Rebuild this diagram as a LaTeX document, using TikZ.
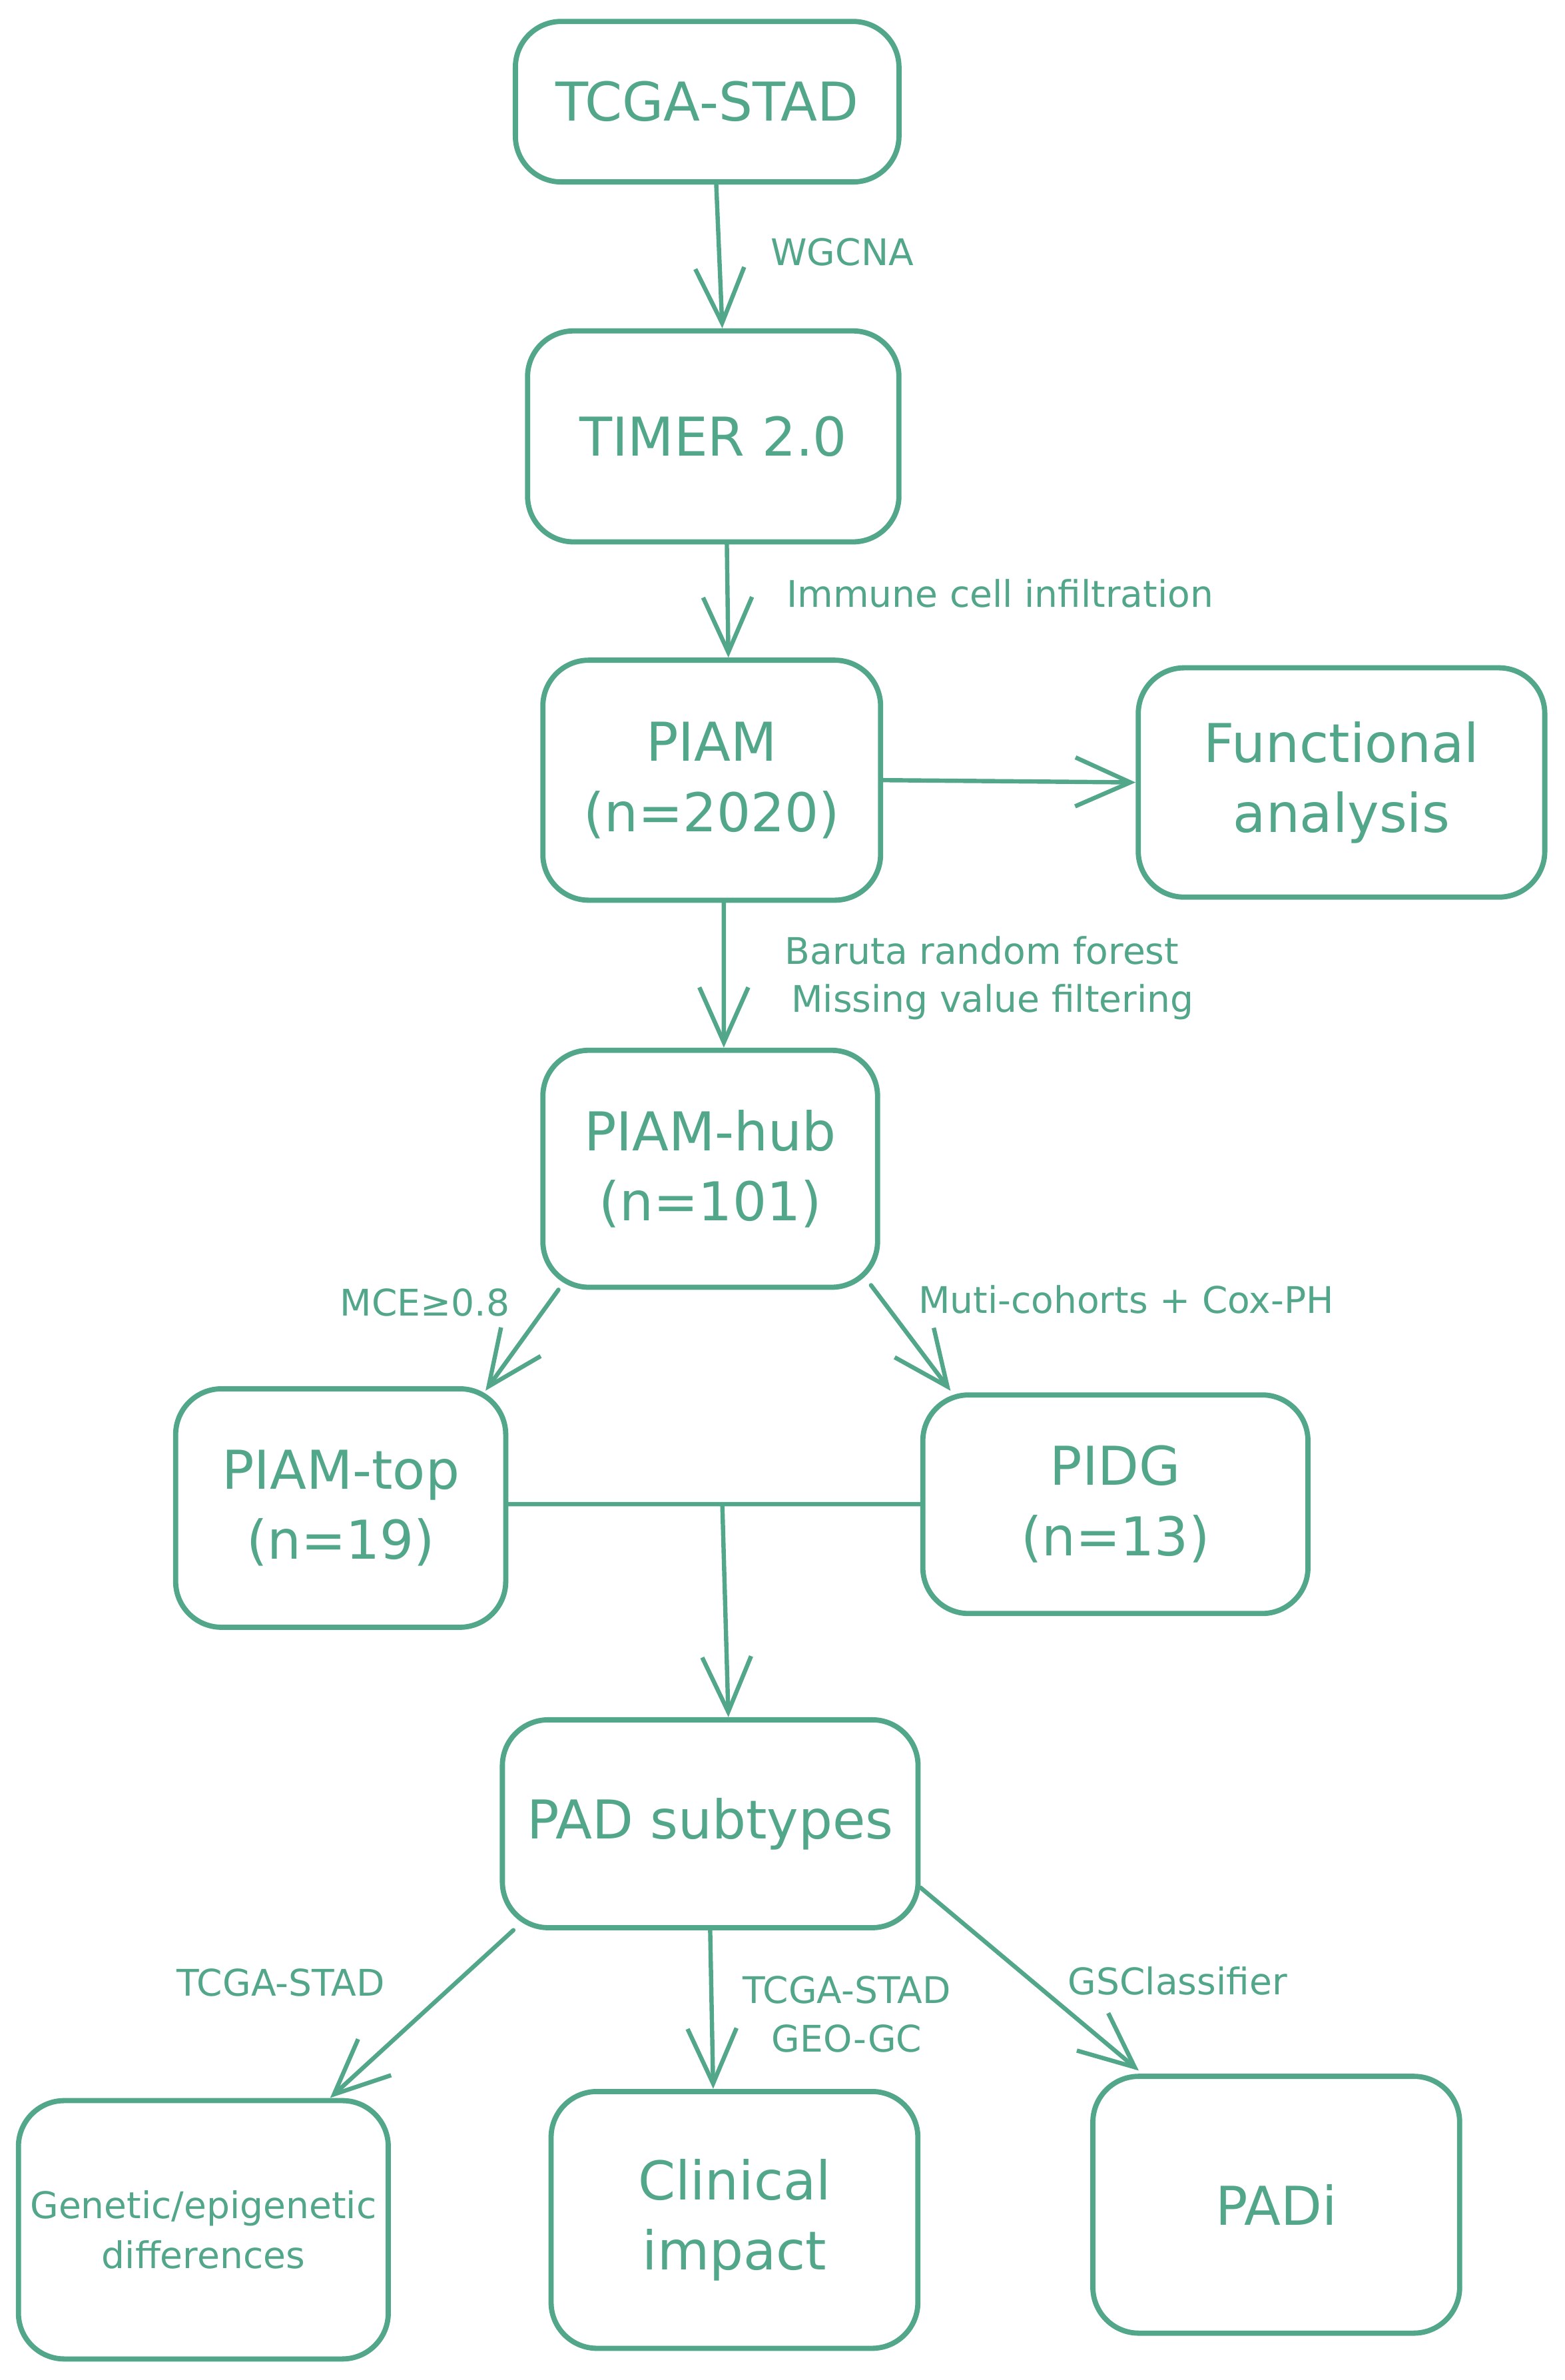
\documentclass[tikz,border=0pt]{standalone}
\usepackage{fontspec}
\setmainfont{DejaVu Sans}
\usetikzlibrary{arrows.meta,calc}
\definecolor{gr}{RGB}{82,166,138}
\tikzset{
  box/.style={draw=gr, line width=3.4pt, rounded corners=30pt, inner sep=0pt,
    text=gr, align=center, font=\fontsize{35}{46}\selectfont},
  smallbox/.style={box, font=\fontsize{24}{33}\selectfont},
  conn/.style={draw=gr, line width=2.8pt, line cap=round,
    -{Straight Barb[length=36pt,width=32pt,line width=2.8pt]}},
  plain/.style={draw=gr, line width=2.8pt, line cap=round},
  lbl/.style={text=gr, font=\fontsize{24}{33}\selectfont, inner sep=0pt, align=center}
}
\begin{document}
\begin{tikzpicture}[x=1pt,y=-1pt]
\useasboundingbox (0,0) rectangle (1024,1557);
\fill[white] (0,0) rectangle (1024,1557);
\begin{scope}[scale=0.993]
\node[box, minimum width=251pt, minimum height=105pt] (tcga) at (466,67) {TCGA-STAD};
\node[box, minimum width=243pt, minimum height=138pt] (timer) at (470,287.5) {TIMER 2.0};
\node[box, minimum width=221pt, minimum height=157pt] (piam) at (469,514) {PIAM\\(n=2020)};
\node[box, minimum width=266pt, minimum height=150pt] (func) at (884,515.5) {Functional\\analysis};
\node[box, minimum width=219pt, minimum height=155pt] (hub) at (468,770) {PIAM-hub\\(n=101)};
\node[box, minimum width=216pt, minimum height=156pt] (top) at (224.5,993.5) {PIAM-top\\(n=19)};
\node[box, minimum width=252pt, minimum height=143pt] (pidg) at (735,991) {PIDG\\(n=13)};
\node[box, minimum width=272pt, minimum height=136pt] (pad) at (468,1201.5) {PAD subtypes};
\node[smallbox, minimum width=242pt, minimum height=169pt] (gen) at (134,1469) {Genetic/epigenetic\\differences};
\node[box, minimum width=240pt, minimum height=168pt] (clin) at (484,1462.5) {Clinical\\impact};
\node[box, minimum width=240pt, minimum height=168pt] (padi) at (841,1452.5) {PADi};

% connectors
\draw[conn] ([xshift=6pt]tcga.south) -- ([xshift=6pt]timer.north);
\draw[conn] ([xshift=9pt]timer.south) -- ([xshift=11pt]piam.north);
\draw[conn] (piam.east) -- (func.west);
\draw[conn] ([xshift=8pt]piam.south) -- ([xshift=9pt]hub.north);
\draw[conn] ([xshift=12pt]hub.south west) -- ([xshift=-15pt,yshift=-3pt]top.north east);
\draw[conn] ([xshift=-6pt,yshift=3pt]hub.south east) -- ([xshift=20pt,yshift=1pt]pidg.north west);
\coordinate (j) at (476,991);
\draw[plain] ([yshift=2.5pt]top.east) -- (pidg.west);
\draw[conn] (j) -- ([xshift=12pt]pad.north);
\draw[conn] ([xshift=9pt]pad.south west) -- ([xshift=-40pt]gen.north east);
\draw[conn] (pad.south) -- ([xshift=-14pt]clin.north);
\draw[conn] ([yshift=28pt]pad.south east) -- ([xshift=32pt,yshift=2pt]padi.north west);

% labels
\node[lbl] (l1) at (555,166) {WGCNA};
\node[lbl] (l2) at (659,391) {Immune cell infiltration};
\node[lbl] (l3) at (647,626) {Baruta random forest};
\node[lbl] (l4) at (654,660) {Missing value filtering};
\node[lbl] (l5) at (280,858) {MCE≥0.8};
\node[lbl] (l6) at (742,856) {Muti-cohorts + Cox-PH};
\node[lbl] (l7) at (185,1306) {TCGA-STAD};
\node[lbl] (l8) at (558,1311) {TCGA-STAD};
\node[lbl] (l9) at (558,1343) {GEO-GC};
\node[lbl] (l10) at (776,1305) {GSClassifier};
\end{scope}
\end{tikzpicture}
\end{document}
